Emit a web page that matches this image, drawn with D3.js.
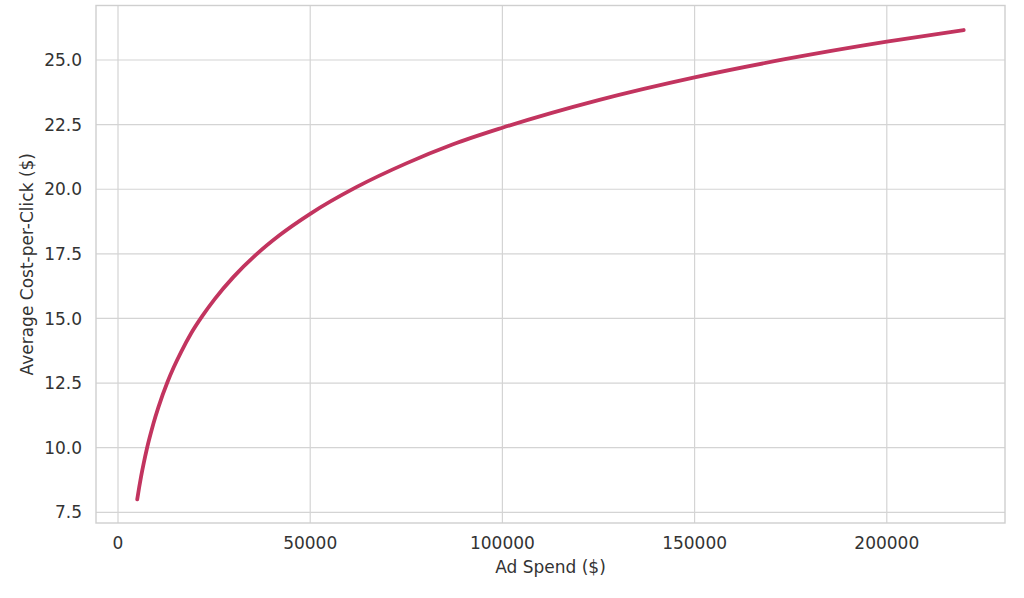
<!DOCTYPE html>
<html>
<head>
<meta charset="utf-8">
<script src="https://cdn.jsdelivr.net/npm/d3@7"></script>
<style>
  html, body { margin: 0; padding: 0; background: #fff; }
  text { font-family: "DejaVu Sans", sans-serif; fill: #333; }
</style>
</head>
<body>
<svg id="chart"></svg>
<script>
const width = 1024;
const height = 598;

// Values
const adSpend = [5000, 5500, 6000, 6750, 7500, 8300, 9200, 10500, 12900, 14500, 16500, 19000,
                 22000, 25200, 30000, 36000, 42000, 50000, 62000, 75000, 87000, 100000,
                 125000, 150000, 173500, 200000, 220000];
const avgCpc  = [8.0, 8.46, 8.88, 9.44, 9.95, 10.43, 10.93, 11.56, 12.55, 13.11, 13.73, 14.42,
                 15.11, 15.76, 16.60, 17.48, 18.22, 19.05, 20.08, 21.0, 21.73, 22.38,
                 23.45, 24.33, 25.03, 25.71, 26.16];

const xTicks = [0, 50000, 100000, 150000, 200000];
const yTicks = [7.5, 10.0, 12.5, 15.0, 17.5, 20.0, 22.5, 25.0];

const data = adSpend.map((d, i) => ({ spend: d, cpc: avgCpc[i] }));

// Plot frame
const plot = { left: 96, right: 1005, top: 5.5, bottom: 523 };

const x = d3.scaleLinear().domain([0, 200000]).range([118, 886.8]);
const y = d3.scaleLinear().domain([7.5, 25]).range([512.3, 60]);

const svg = d3.select("#chart")
    .attr("width", width)
    .attr("height", height)
    .attr("viewBox", [0, 0, width, height]);

// Grid lines
const grid = svg.append("g")
    .attr("stroke", "#d4d4d4")
    .attr("stroke-width", 1.2);

grid.selectAll(".vx")
    .data(xTicks)
    .join("line")
    .attr("x1", d => x(d)).attr("x2", d => x(d))
    .attr("y1", plot.top).attr("y2", plot.bottom);

grid.selectAll(".hy")
    .data(yTicks)
    .join("line")
    .attr("y1", d => y(d)).attr("y2", d => y(d))
    .attr("x1", plot.left).attr("x2", plot.right);

// Frame
svg.append("rect")
    .attr("x", plot.left)
    .attr("y", plot.top)
    .attr("width", plot.right - plot.left)
    .attr("height", plot.bottom - plot.top)
    .attr("fill", "none")
    .attr("stroke", "#cfcfcf")
    .attr("stroke-width", 1.4);

// Curve
const line = d3.line()
    .x(d => x(d.spend))
    .y(d => y(d.cpc))
    .curve(d3.curveMonotoneX);

svg.append("path")
    .datum(data)
    .attr("fill", "none")
    .attr("stroke", "#c2345f")
    .attr("stroke-width", 3.8)
    .attr("stroke-linecap", "round")
    .attr("stroke-linejoin", "round")
    .attr("d", line);

// Tick labels
svg.append("g")
    .selectAll("text")
    .data(xTicks)
    .join("text")
    .attr("x", d => x(d))
    .attr("y", 549)
    .attr("text-anchor", "middle")
    .attr("font-size", "17px")
    .text(d => d3.format("d")(d));

svg.append("g")
    .selectAll("text")
    .data(yTicks)
    .join("text")
    .attr("x", 82)
    .attr("y", d => y(d))
    .attr("dy", "0.36em")
    .attr("text-anchor", "end")
    .attr("font-size", "17px")
    .text(d => d3.format(".1f")(d));

// Axis titles
svg.append("text")
    .attr("x", (plot.left + plot.right) / 2)
    .attr("y", 573)
    .attr("text-anchor", "middle")
    .attr("font-size", "17px")
    .text("Ad Spend ($)");

svg.append("text")
    .attr("transform", `translate(33,${(plot.top + plot.bottom) / 2}) rotate(-90)`)
    .attr("text-anchor", "middle")
    .attr("font-size", "17px")
    .text("Average Cost-per-Click ($)");
</script>
</body>
</html>
